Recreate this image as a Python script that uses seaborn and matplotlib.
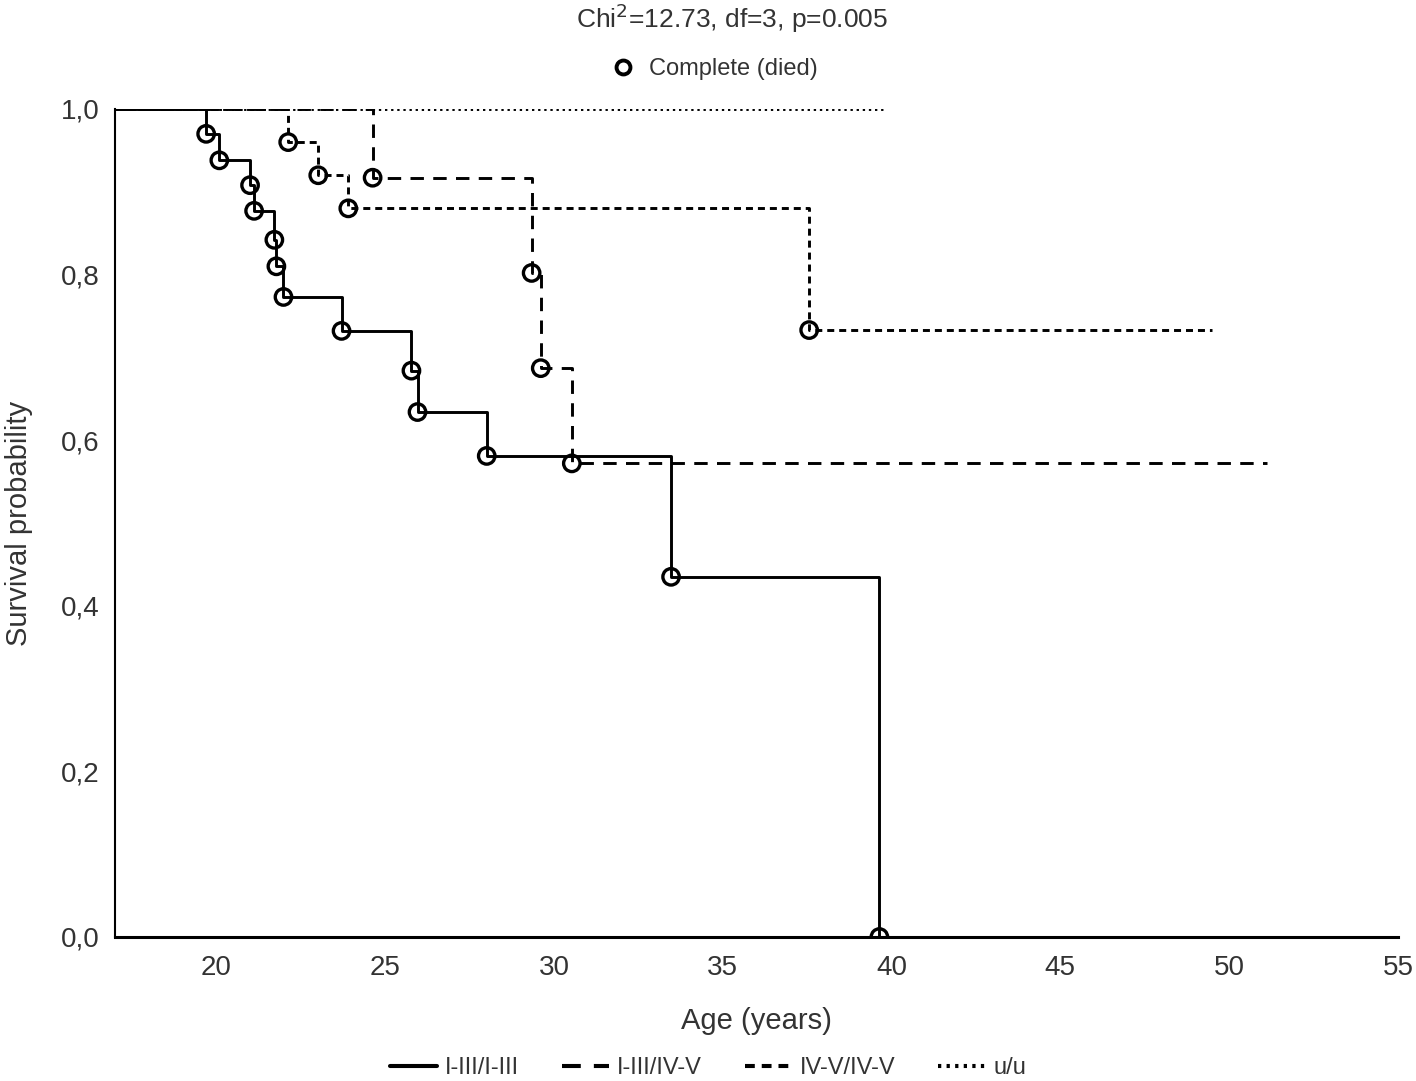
import pandas as pd
import matplotlib
matplotlib.use("Agg")
import matplotlib.pyplot as plt
from matplotlib.lines import Line2D
import seaborn as sns

# datos
groups = ["I-III/I-III", "I-III/IV-V", "IV-V/IV-V", "u/u"]

age_13_13 = [19.70, 20.09, 21.00, 21.12, 21.72, 21.78, 21.99, 23.71, 25.78, 25.96, 28.01, 33.47, 39.64]
surv_13_13 = [0.970, 0.938, 0.908, 0.877, 0.842, 0.810, 0.773, 0.732, 0.684, 0.634, 0.581, 0.435, 0.0]
end_13_13 = 39.64

age_13_45 = [24.63, 29.34, 29.61, 30.53]
surv_13_45 = [0.917, 0.802, 0.687, 0.572]
end_13_45 = 51.12

age_45_45 = [22.13, 23.02, 23.91, 37.56]
surv_45_45 = [0.960, 0.920, 0.880, 0.733]
end_45_45 = 49.49

age_uu = []
surv_uu = []
end_uu = 39.85

start_age = 17
x_ticks = [20, 25, 30, 35, 40, 45, 50, 55]
y_ticks = [0.0, 0.2, 0.4, 0.6, 0.8, 1.0]

series = {
    "I-III/I-III": (age_13_13, surv_13_13, end_13_13),
    "I-III/IV-V": (age_13_45, surv_13_45, end_13_45),
    "IV-V/IV-V": (age_45_45, surv_45_45, end_45_45),
    "u/u": (age_uu, surv_uu, end_uu),
}

# curvas escalonadas
rows = []
events = []
for g, (ages, survs, end) in series.items():
    last = survs[-1] if survs else 1.0
    xs = [start_age] + ages + [end]
    ys = [1.0] + survs + [last]
    for a, s in zip(xs, ys):
        rows.append({"Age": a, "Surv": s, "Grupo": g})
    for a, s in zip(ages, survs):
        events.append({"Age": a, "Surv": s, "Grupo": g})
df = pd.DataFrame(rows)
df_ev = pd.DataFrame(events)

sns.set_style("white")
plt.rcParams["font.family"] = ["Liberation Sans", "DejaVu Sans"]

dash_map = {
    "I-III/I-III": "",
    "I-III/IV-V": (4.6, 3.2),
    "IV-V/IV-V": (2.4, 1.7),
    "u/u": (0.8, 1.3),
}
lw = 2.1
txt = "#333333"

fig = plt.figure(figsize=(14.16, 10.81), dpi=100)
ax = fig.add_axes([115 / 1416, 1 - 937 / 1081, (1398 - 115) / 1416, (937 - 109) / 1081])

sns.lineplot(
    data=df, x="Age", y="Surv", style="Grupo", style_order=groups,
    dashes=dash_map, color="black", estimator=None, sort=False,
    drawstyle="steps-post", linewidth=lw, legend=False, ax=ax,
)

sns.scatterplot(
    data=df_ev, x="Age", y="Surv", marker="o", s=140,
    facecolor="none", edgecolor="black", linewidth=2.4, ax=ax, legend=False, zorder=5,
)

ax.set_xlim(17, 55)
ax.set_ylim(0, 1.0)
ax.set_xticks(x_ticks)
ax.set_yticks(y_ticks)
ax.set_yticklabels([f"{v:.1f}".replace(".", ",") for v in y_ticks])
ax.tick_params(direction="in", length=5, width=1.2, colors="black", labelsize=20,
               labelcolor=txt)
ax.tick_params(axis="x", pad=13)
ax.tick_params(axis="y", pad=11)
for s in ["top", "right"]:
    ax.spines[s].set_visible(False)
ax.spines["left"].set_color("black")
ax.spines["left"].set_linewidth(1.5)
ax.spines["bottom"].set_color("black")
ax.spines["bottom"].set_linewidth(2.2)

ax.set_xlabel("Age (years)", fontsize=21, color=txt, labelpad=19)
ax.set_ylabel("Survival probability", fontsize=21, color=txt, labelpad=20)

fig.text(732 / 1416, 1 - 18 / 1081, "Chi$^2$=12.73, df=3, p=0.005", ha="center", va="center",
         fontsize=19, color=txt)

h_top = [Line2D([], [], linestyle="none", marker="o", markersize=10, markerfacecolor="none",
                markeredgecolor="black", markeredgewidth=2.8)]
fig.legend(h_top, ["Complete (died)"], loc="center", bbox_to_anchor=(709 / 1416, 1 - 69 / 1081),
           frameon=False, fontsize=17, handletextpad=0.1, labelcolor=txt)

h_bot = [Line2D([], [], color="black", linewidth=lw * 1.4,
                linestyle=(0, dash_map[g]) if dash_map[g] else "-") for g in groups]
fig.legend(h_bot, groups, loc="center", bbox_to_anchor=(708 / 1416, 1 - 1068 / 1081), ncol=4,
           frameon=False, fontsize=17, handlelength=2.0, handletextpad=0.35,
           columnspacing=1.8, labelcolor=txt)

plt.savefig("out.png", dpi=100)
